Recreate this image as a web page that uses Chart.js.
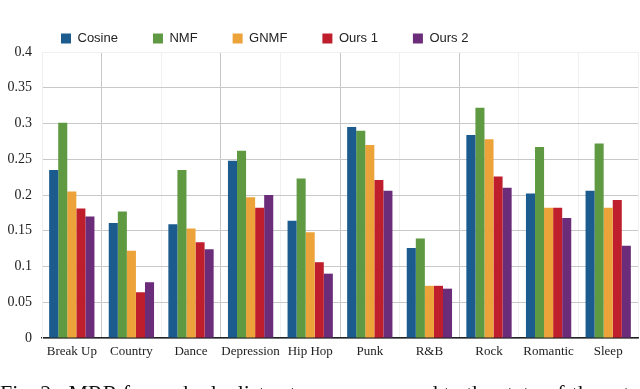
<!DOCTYPE html>
<html>
<head>
<meta charset="utf-8">
<script src="https://cdn.jsdelivr.net/npm/chart.js@4"></script>
<style>
  html, body { margin: 0; padding: 0; background: #fff; }
  #wrap { width: 640px; height: 389px; }
</style>
</head>
<body>
<div id="wrap"><canvas id="chart"></canvas></div>
<script>
let categories = ['Break Up','Country','Dance','Depression','Hip Hop','Punk','R&B','Rock','Romantic','Sleep'];

let cosine = [0.235,0.161,0.159,0.248,0.164,0.295,0.126,0.284,0.202,0.206];
let nmf    = [0.301,0.177,0.235,0.262,0.223,0.290,0.139,0.322,0.267,0.272];
let gnmf   = [0.205,0.122,0.153,0.197,0.148,0.270,0.073,0.278,0.182,0.182];
let ours1  = [0.181,0.064,0.134,0.182,0.106,0.221,0.073,0.226,0.182,0.193];
let ours2  = [0.170,0.078,0.124,0.200,0.090,0.206,0.069,0.210,0.168,0.129];

let caption = 'Fig. 2:  MRR for each playlist category compared to the state-of-the-art. Our';

let serif = '"Liberation Serif", "Times New Roman", serif';
let sans = '"Liberation Sans", Arial, sans-serif';

// caption under the chart, mostly cut off at the bottom edge
// also nudges the legend right, it is not centred in the original
let extrasPlugin = {
    id:'extras',
    beforeDraw(chart){
        chart.legend.left = 26;
    },
    afterDraw(chart){
        let c = chart.ctx;
        c.save();
        c.fillStyle = '#111';
        c.font = '22px ' + serif;
        c.textBaseline = 'alphabetic';
        c.fillText(caption, 0, 400);
        c.restore();
    }
};

let ctx = document.getElementById('chart').getContext('2d');

let chart = new Chart(ctx,{
    type:'bar',
    data:{
        labels:categories,
        datasets:[
            {label:'Cosine', data:cosine, backgroundColor:'#1b5b8e'},
            {label:'NMF',    data:nmf,    backgroundColor:'#5f9a42'},
            {label:'GNMF',   data:gnmf,   backgroundColor:'#eca33a'},
            {label:'Ours 1', data:ours1,  backgroundColor:'#bf1f2c'},
            {label:'Ours 2', data:ours2,  backgroundColor:'#6b2c79'},
        ]
    },
    options:{
        animation:false,
        responsive:true,
        maintainAspectRatio:false,
        layout:{
            padding:{top:-3, left:0, right:2, bottom:0}
        },
        datasets:{
            bar:{
                barPercentage:1,
                categoryPercentage:0.76,
            }
        },
        plugins:{
            tooltip:{enabled:false},
            legend:{
                position:'top',
                align:'start',
                maxHeight:55,
                labels:{
                    color:'#222',
                    boxWidth:10,
                    boxHeight:10,
                    padding:35,
                    font:{size:13, family:sans}
                }
            }
        },
        scales:{
            x:{
                grid:{
                    offset:true,
                    drawTicks:false,
                    color:(c)=> [1,3,5,7].includes(c.index) ? '#c8c8c8' : '#f0f0f0',
                },
                border:{color:'#222', width:1.5},
                ticks:{
                    color:'#222',
                    padding:6,
                    maxRotation:0,
                    autoSkip:false,
                    font:{size:13, family:serif}
                },
                afterFit:(axis)=>{ axis.height = 51; }
            },
            y:{
                min:0,
                max:0.4,
                grid:{
                    drawTicks:false,
                    color:(c)=> c.tick && c.tick.value >= 0.4 ? '#f0f0f0' : '#c8c8c8',
                },
                border:{color:'#eeeeee'},
                ticks:{
                    stepSize:0.05,
                    color:'#222',
                    padding:10,
                    font:{size:14, family:serif},
                    callback:(v)=> String(+v.toFixed(2))
                },
                afterFit:(axis)=>{ axis.width = 42; }
            }
        }
    },
    plugins:[extrasPlugin]
});
</script>
</body>
</html>
